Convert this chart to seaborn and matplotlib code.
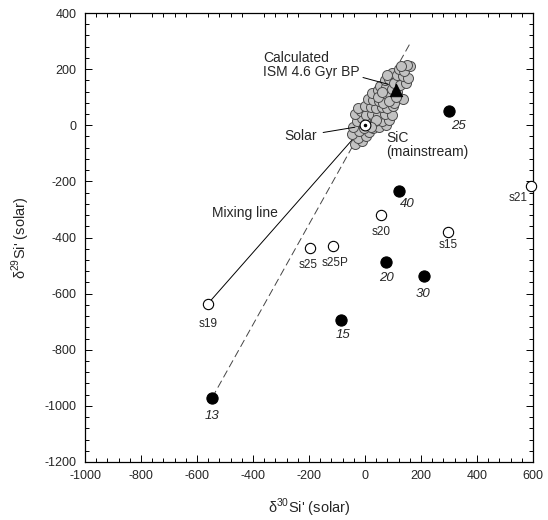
import matplotlib
matplotlib.use("Agg")
import matplotlib.pyplot as plt
import seaborn as sns
from matplotlib.ticker import MultipleLocator

# SiC mainstream grains (delta30Si, delta29Si)
sic_x = [-36, -10, -25, -45, 5, -20, -42, 15, -5, 30, 50, 75, -30, -10, 10, 35, 60, 85,
         -35, -15, 5, 25, 45, 70, 95, -25, 0, 20, 40, 60, 80, 100, 10, 30, 50, 75, 105,
         25, 45, 65, 90, 135, 55, 75, 95, 115, 70, 85, 105, 125, 145, 95, 115, 135, 155,
         120, 140, 160, 150, 130, 40, 20, 65, 85, 45, 110, 60, 80]
sic_y = [-68, -55, -45, -30, -40, -20, -5, -25, -10, -10, -5, 0, 15, 25, 10, 15, 15, 20,
         40, 50, 35, 40, 35, 40, 35, 60, 70, 65, 60, 65, 60, 70, 95, 90, 85, 90, 80,
         115, 125, 110, 110, 93, 140, 135, 130, 120, 160, 165, 150, 145, 150, 185, 180, 175, 170,
         200, 195, 210, 215, 210, 20, -5, 80, 85, 100, 100, 120, 180]

# supernova model points (filled) and mixtures (open)
sn_x = [-546, -86, 75, 300, 211, 121]
sn_y = [-971, -693, -486, 50, -536, -236]
sn_lab = ["13", "15", "20", "25", "30", "40"]

mix_x = [296, -561, 57, 593, -196, -114]
mix_y = [-379, -636, -321, -218, -439, -432]
mix_lab = ["s15", "s19", "s20", "s21", "s25", "s25P"]

ism_x, ism_y = [111], [125]
solar_x, solar_y = [0], [0]

# label offsets in points
sn_off = {"13": (0, -13), "15": (1.5, -11), "20": (0, -12), "25": (6.5, -10.5),
          "30": (-1, -13.5), "40": (6, -9)}
mix_off = {"s15": (0, -10), "s19": (0, -14.5), "s20": (0, -12), "s21": (-9.5, -8),
           "s25": (-1.5, -12), "s25P": (1.5, -12)}

sns.set_style("ticks")
plt.rcParams["font.family"] = ["Liberation Sans", "DejaVu Sans"]
plt.rcParams["mathtext.fontset"] = "custom"
plt.rcParams["mathtext.rm"] = "Liberation Sans"
plt.rcParams["axes.unicode_minus"] = False

fig = plt.figure(figsize=(5.48, 5.20), dpi=100)
ax = fig.add_axes([85 / 548, 1 - 462 / 520, 448 / 548, 449 / 520])

# mixing line (solid) and dashed line through 13
ax.plot([mix_x[1], 0], [mix_y[1], 0], color="black", lw=0.7, zorder=1)
ax.plot([sn_x[0], 160], [sn_y[0], 290], color="#444444", lw=0.7,
        linestyle=(0, (8, 4)), zorder=1)

sns.scatterplot(x=sic_x, y=sic_y, ax=ax, s=52, color="#c2c2c2",
                edgecolor="#4a4a4a", linewidth=0.7, zorder=3)
sns.scatterplot(x=solar_x, y=solar_y, ax=ax, s=60, color="white",
                edgecolor="black", linewidth=0.8, zorder=4)
ax.plot(solar_x, solar_y, "o", ms=1.5, color="black", zorder=5)
sns.scatterplot(x=ism_x, y=ism_y, ax=ax, s=80, marker="^", color="black",
                edgecolor="black", zorder=5)
sns.scatterplot(x=sn_x, y=sn_y, ax=ax, s=65, color="black",
                edgecolor="black", linewidth=0.8, zorder=4)
sns.scatterplot(x=mix_x, y=mix_y, ax=ax, s=55, color="white",
                edgecolor="black", linewidth=0.8, zorder=4, clip_on=False)

for x, y, t in zip(sn_x, sn_y, sn_lab):
    ax.annotate(t, (x, y), xytext=sn_off[t], textcoords="offset points",
                ha="center", va="center", fontsize=9.5, style="italic")
for x, y, t in zip(mix_x, mix_y, mix_lab):
    ax.annotate(t, (x, y), xytext=mix_off[t], textcoords="offset points",
                ha="center", va="center", fontsize=8.5)

ax.annotate("Calculated\nISM 4.6 Gyr BP", xy=(82, 146), xytext=(-364, 214),
            ha="left", va="center", fontsize=10, linespacing=1.05,
            arrowprops=dict(arrowstyle="-", color="black", lw=0.7,
                            shrinkA=0, shrinkB=0, relpos=(1.0, 0.1)))
ax.annotate("Solar", xy=(-36, -7), xytext=(-171, -39), ha="right", va="center",
            fontsize=10, arrowprops=dict(arrowstyle="-", color="black", lw=0.7,
                                         shrinkA=2, shrinkB=0))
ax.text(75, -72, "SiC\n(mainstream)", ha="left", va="center", fontsize=10,
        linespacing=1.0)
ax.text(-546, -311, "Mixing line", ha="left", va="center", fontsize=10)

ax.set_xlim(-1000, 600)
ax.set_ylim(-1200, 400)
ax.xaxis.set_major_locator(MultipleLocator(200))
ax.xaxis.set_minor_locator(MultipleLocator(40))
ax.yaxis.set_major_locator(MultipleLocator(200))
ax.yaxis.set_minor_locator(MultipleLocator(40))
ax.tick_params(which="both", direction="in", left=True, right=True,
               bottom=True, labelsize=9, pad=6, width=0.7, color="black")
ax.tick_params(which="major", top=False, length=5)
ax.tick_params(which="minor", top=True, length=3)
for sp in ax.spines.values():
    sp.set_visible(True)
    sp.set_linewidth(0.9)
    sp.set_color("black")

ax.set_xlabel("δ$^{30}$Si' (solar)", fontsize=10.5)
ax.set_ylabel("δ$^{29}$Si' (solar)", fontsize=10.5)
ax.xaxis.set_label_coords(0.5, -0.078)
ax.yaxis.set_label_coords(-0.118, 0.5)

fig.savefig("out.png", dpi=100)
